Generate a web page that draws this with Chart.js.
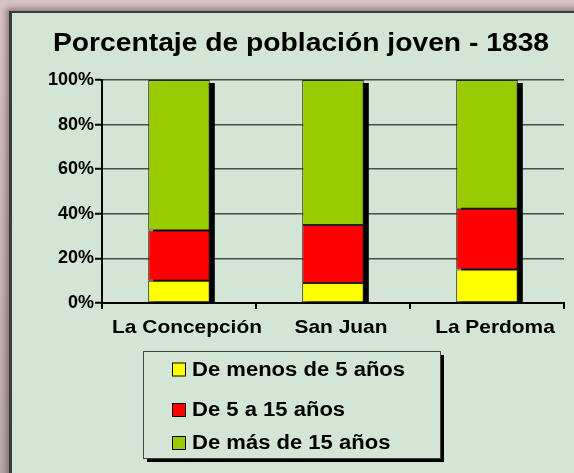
<!DOCTYPE html>
<html lang="es">
<head>
<meta charset="UTF-8">
<title>Porcentaje de población joven - 1838</title>
<script src="https://cdn.jsdelivr.net/npm/chart.js"></script>
<style>
  html, body { margin: 0; padding: 0; }
  body { width: 574px; height: 473px; overflow: hidden; position: relative;
         background: linear-gradient(to bottom, #d6c1c4, #b7a7a9); }
  #panel { position: absolute; left: 9px; top: 11px; right: -10px; bottom: -10px;
           background: #d3e5d5; border-left: 3px solid #3b3b3b; border-top: 2px solid #3b3b3b;
           box-shadow: -3px -3px 5px rgba(70,50,50,0.45); }
  #wrap { position: absolute; left: 0; top: 0; width: 574px; height: 473px; }
</style>
</head>
<body>
<div id="panel"></div>
<div id="wrap"><canvas id="chart" width="574" height="473"></canvas></div>
<script>
  const titulo = 'Porcentaje de población joven - 1838';
  const barrios = ['La Concepción', 'San Juan', 'La Perdoma'];
  const series = ['De menos de 5 años', 'De 5 a 15 años', 'De más de 15 años'];
  const menos5 = [10, 9, 15];
  const de5a15 = [22.5, 26, 27.3];
  const mas15 = [67.5, 65, 57.7];
  const colores = ['#ffff00', '#ff0000', '#99cc00'];

  const FONT = '"Liberation Sans", Arial, sans-serif';
  const STRETCH = 1.13; // the original text is drawn a little wide

  // text drawn slightly stretched horizontally
  function wideText(ctx, txt, x, y, align) {
    ctx.save();
    ctx.translate(x, y);
    ctx.scale(STRETCH, 1);
    ctx.textAlign = align;
    ctx.fillText(txt, 0, 0);
    ctx.restore();
  }

  // drop shadow to the right of each stacked bar
  const barShadow = {
    id: 'barShadow',
    beforeDatasetsDraw(chart) {
      const ctx = chart.ctx;
      const top = chart.getDatasetMeta(chart.data.datasets.length - 1);
      const y0 = chart.scales.y.getPixelForValue(0);
      ctx.save();
      ctx.fillStyle = '#000';
      top.data.forEach(bar => {
        const p = bar.getProps(['x', 'y', 'width'], true);
        ctx.fillRect(p.x - p.width / 2 + 5, p.y + 3, p.width, y0 - p.y - 3);
      });
      ctx.restore();
    }
  };

  // title, category labels and boxed legend like the original spreadsheet chart
  const decor = {
    id: 'decor',
    afterDraw(chart) {
      const ctx = chart.ctx;
      ctx.save();
      ctx.fillStyle = '#000';
      ctx.font = 'bold 25px ' + FONT;
      ctx.textBaseline = 'middle';
      wideText(ctx, titulo, 301, 44, 'center');

      // category labels, a bit right of the tick centre as in the original
      const xs = chart.scales.x;
      ctx.font = 'bold 18.5px ' + FONT;
      chart.data.labels.forEach((lab, i) => {
        wideText(ctx, lab, xs.getPixelForTick(i) + 8, 328, 'center');
      });

      // legend box
      const bx = 143, by = 351, bw = 297, bh = 107;
      ctx.fillStyle = '#000';
      ctx.fillRect(bx + 4, by + 4, bw, bh);
      ctx.fillStyle = '#d3e5d5';
      ctx.fillRect(bx, by, bw, bh);
      ctx.strokeStyle = '#444';
      ctx.lineWidth = 1;
      ctx.strokeRect(bx + 0.5, by + 0.5, bw, bh);

      const rows = [369.5, 410, 443];
      ctx.font = 'bold 19.5px ' + FONT;
      chart.data.datasets.forEach((ds, i) => {
        const cy = rows[i];
        ctx.fillStyle = ds.backgroundColor;
        ctx.fillRect(172, cy - 7, 14, 14);
        ctx.strokeStyle = '#000';
        ctx.strokeRect(172.5, cy - 6.5, 13, 13);
        ctx.fillStyle = '#000';
        wideText(ctx, ds.label, 192, cy + 1, 'left');
      });
      ctx.restore();
    }
  };

  const datasets = [menos5, de5a15, mas15].map((vals, i) => ({
    label: series[i],
    data: vals,
    backgroundColor: colores[i],
    borderColor: '#222',
    borderWidth: 1,
    borderSkipped: false,
    barPercentage: 0.4,
    categoryPercentage: 1
  }));

  new Chart(document.getElementById('chart'), {
    type: 'bar',
    data: { labels: barrios, datasets: datasets },
    options: {
      responsive: false,
      animation: false,
      devicePixelRatio: 1,
      layout: { padding: { left: 0, right: 10, top: 80, bottom: 135 } },
      plugins: {
        legend: { display: false },
        title: { display: false },
        tooltip: { enabled: false }
      },
      scales: {
        x: {
          stacked: true,
          grid: { drawOnChartArea: false, drawTicks: true, tickLength: 6, color: '#000', lineWidth: 2 },
          border: { color: '#000', width: 2 },
          ticks: {
            color: 'rgba(0,0,0,0)', padding: 6, maxRotation: 0, minRotation: 0, autoSkip: false,
            font: { family: FONT, size: 18, weight: 'bold' }
          },
          afterFit(scale) { scale.height = 35; }
        },
        y: {
          stacked: true,
          min: 0,
          max: 100,
          grid: { color: '#4d4d4d', lineWidth: 1.5, tickLength: 7, tickColor: '#000', tickWidth: 2 },
          border: { color: '#000', width: 2 },
          ticks: {
            stepSize: 20,
            color: '#000',
            padding: 1,
            font: { family: FONT, size: 18, weight: 'bold' },
            callback: v => v + '%'
          },
          afterFit(scale) { scale.width = 102; }
        }
      }
    },
    plugins: [barShadow, decor]
  });
</script>
</body>
</html>
